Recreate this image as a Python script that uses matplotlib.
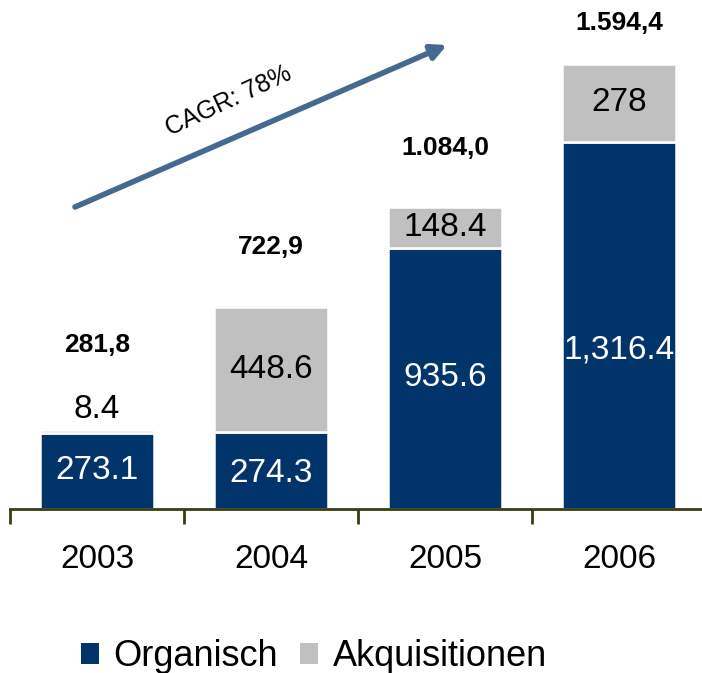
import matplotlib
matplotlib.use("Agg")
import matplotlib.pyplot as plt
from matplotlib.patches import Patch

plt.rcParams['font.family'] = ['Liberation Sans', 'DejaVu Sans']

years = ["2003", "2004", "2005", "2006"]
organisch = [273.1, 274.3, 935.6, 1316.4]
akquisitionen = [8.4, 448.6, 148.4, 278.0]
organisch_labels = ["273.1", "274.3", "935.6", "1,316.4"]
akq_labels = ["8.4", "448.6", "148.4", "278"]
total_labels = ["281,8", "722,9", "1.084,0", "1.594,4"]
series_names = ["Organisch", "Akquisitionen"]
cagr_text = "CAGR: 78%"

navy = "#00346A"
grey = "#C0C0C0"

fig = plt.figure(figsize=(7.02, 6.73), dpi=100)
ax = fig.add_axes([10/702, 1 - 509/673, 696/702, 474.3/673])
x = list(range(len(years)))
w = 0.65
ax.bar(x, organisch, w, color=navy, edgecolor="white", linewidth=1.8)
ax.bar(x, akquisitionen, w, bottom=organisch, color=grey, edgecolor="white", linewidth=1.8)
ax.set_xlim(-0.5, 3.5)
ax.set_ylim(0, 1700)

for s in ["left", "top", "right"]:
    ax.spines[s].set_visible(False)
ax.spines["bottom"].set_color("#3c3c14")
ax.spines["bottom"].set_linewidth(2)
ax.set_yticks([])
ax.set_xticks(x)
ax.set_xticklabels(years, fontsize=24)
ax.tick_params(axis="x", which="major", length=0, pad=25)
ax.set_xticks([-0.5, 0.5, 1.5, 2.5, 3.5], minor=True)
ax.tick_params(axis="x", which="minor", length=11, width=2, color="#3c3c14", direction="out")

# segment labels
org_offsets = [0, -3, 1, -25]  # px vertical tweaks
for i in x:
    ax.annotate(organisch_labels[i], (i, organisch[i] / 2), xytext=(0, org_offsets[i]),
                textcoords="offset pixels", ha="center", va="center",
                color="white", fontsize=24)
for i in x:
    if i == 0:
        ax.annotate(akq_labels[i], (i, organisch[i] + akquisitionen[i]), xytext=(0, 21),
                    textcoords="offset pixels", ha="center", va="center",
                    color="black", fontsize=24)
    else:
        ax.annotate(akq_labels[i], (i, organisch[i] + akquisitionen[i] / 2), xytext=(0, 0),
                    textcoords="offset pixels", ha="center", va="center",
                    color="black", fontsize=24)

tot_offsets = [85, 60, 59, 41]
for i in x:
    tot = organisch[i] + akquisitionen[i]
    ax.annotate(total_labels[i], (i, tot), xytext=(0, tot_offsets[i]),
                textcoords="offset pixels", ha="center", va="center",
                color="black", fontsize=19, fontweight="bold")

# CAGR arrow
ax.annotate("", xy=(447/702, 1 - 45/673), xytext=(75/702, 1 - 207/673),
            xycoords="figure fraction", textcoords="figure fraction",
            arrowprops=dict(arrowstyle="-|>,head_length=0.9,head_width=0.45",
                            color="#45698F", lw=4, shrinkA=0, shrinkB=0))
fig.text(229/702, 1 - 101/673, cagr_text, rotation=25, ha="center", va="center",
         fontsize=18, color="black", rotation_mode="anchor")

handles = [Patch(facecolor=navy, edgecolor="none"), Patch(facecolor=grey, edgecolor="none")]
fig.legend(handles, series_names, loc="center", bbox_to_anchor=(314/702, 1 - 657/673),
           ncol=2, frameon=False, fontsize=26, handlelength=0.5, handleheight=0.5,
           handletextpad=0.4, columnspacing=0.6, borderaxespad=0, borderpad=0)

fig.savefig("out.png", dpi=100)
